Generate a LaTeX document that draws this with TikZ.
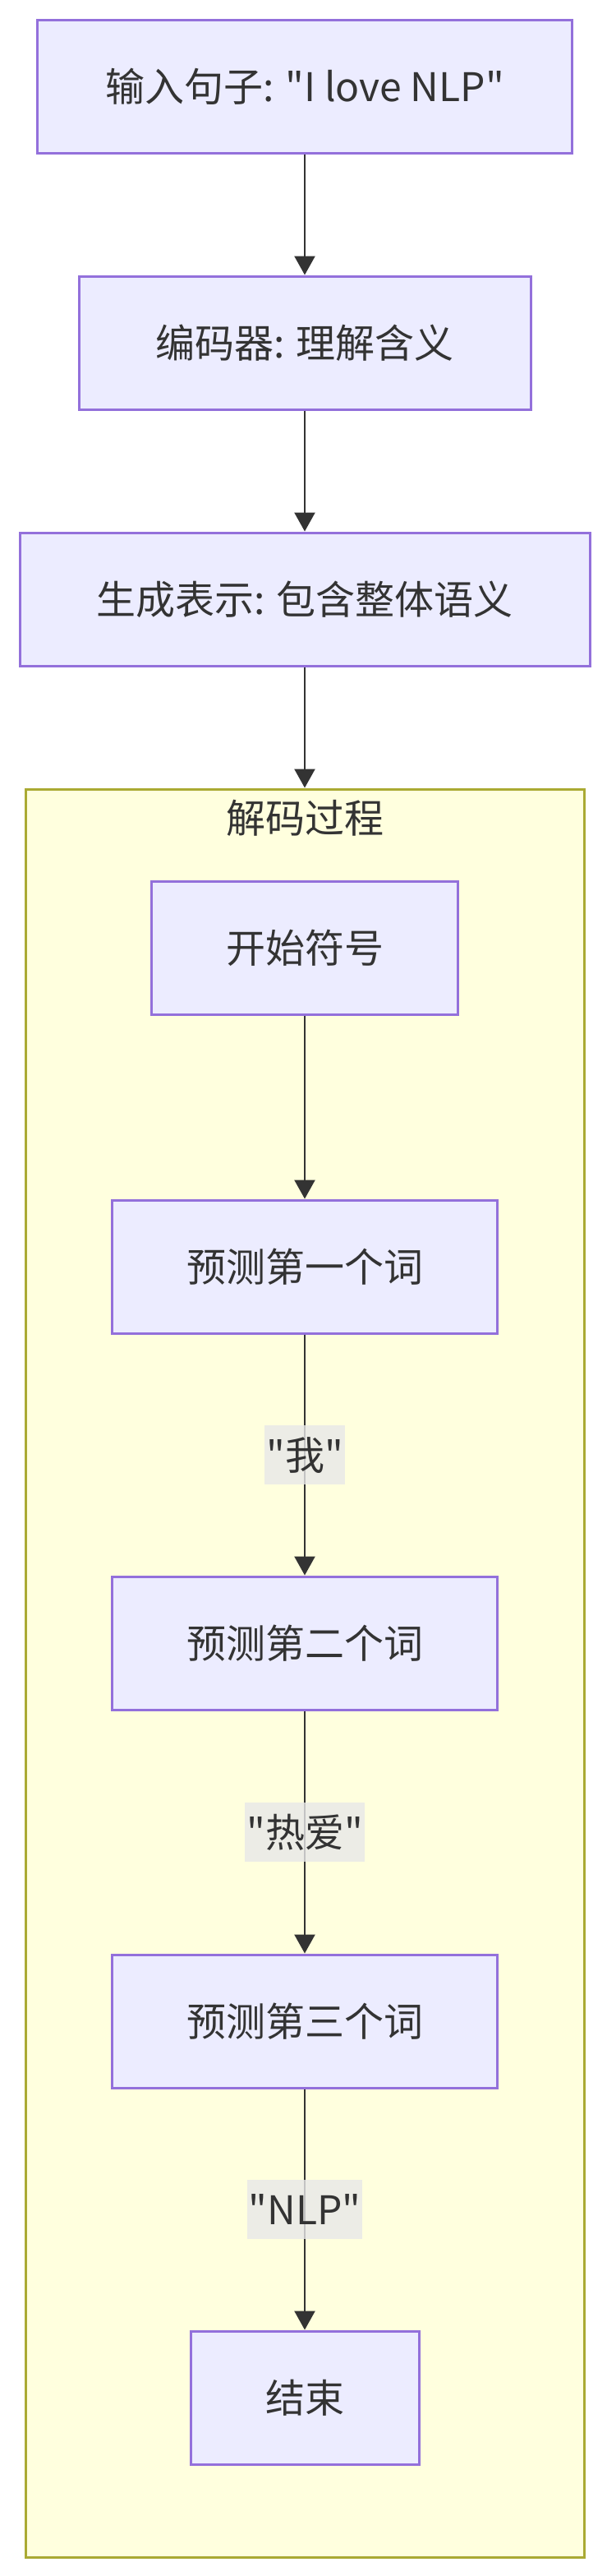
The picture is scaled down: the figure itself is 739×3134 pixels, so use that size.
\documentclass[tikz,border=0pt]{standalone}
\usepackage{fontspec}
\newfontfamily\cjkfont{Noto Sans CJK SC}
\usetikzlibrary{arrows.meta}
\definecolor{nodefill}{HTML}{ECECFF}
\definecolor{nodeline}{HTML}{9370DB}
\definecolor{clusterfill}{HTML}{FFFFDE}
\definecolor{clusterline}{HTML}{AAAA33}
\definecolor{edgecol}{HTML}{333333}
\definecolor{labelbg}{HTML}{E8E8E8}
\begin{document}
\begin{tikzpicture}[x=0.5pt,y=-0.5pt,
  txt/.style={text=edgecol, font=\cjkfont\fontsize{24}{29}\selectfont},
  box/.style={txt, draw=nodeline, fill=nodefill, line width=1.5pt, inner sep=0pt, minimum height=81pt},
  cluster/.style={draw=clusterline, fill=clusterfill, line width=1.5pt, inner sep=0pt},
  edge/.style={draw=edgecol, line width=1.25pt, -{Triangle[length=11.5pt,width=12.5pt]}},
  elabel/.style={txt, fill=labelbg, fill opacity=0.8, text opacity=1, inner xsep=1pt, inner ysep=0pt, minimum height=36pt}
]
\useasboundingbox (0,0) rectangle (739,3134);
\node[box, minimum width=325.5pt] (inp) at (371,105) {输入句子: "I love NLP"};
\node[box, minimum width=275pt] (enc) at (371,417) {编码器: 理解含义};
\node[box, minimum width=347pt] (gen) at (371,729) {生成表示: 包含整体语义};
\node[cluster, minimum width=340pt, minimum height=1075.5pt] (dec) at (371,2035.5) {};
\node[txt] (dectitle) at (371,995) {解码过程};
\node[box, minimum width=186.5pt] (start) at (371,1153) {开始符号};
\node[box, minimum width=234.5pt] (p1) at (371,1541) {预测第一个词};
\node[box, minimum width=234.5pt] (p2) at (371,1999) {预测第二个词};
\node[box, minimum width=234.5pt] (p3) at (371,2459) {预测第三个词};
\node[box, minimum width=139pt] (fin) at (371,2917) {结束};
\draw[edge] (inp.south) -- (enc.north);
\draw[edge] (enc.south) -- (gen.north);
\draw[edge] (gen.south) -- (dec.north);
\draw[edge] (start.south) -- (p1.north);
\draw[edge] (p1.south) -- node[elabel] (l1) {"我"} (p2.north);
\draw[edge] (p2.south) -- node[elabel] (l2) {"热爱"} (p3.north);
\draw[edge] (p3.south) -- node[elabel] (l3) {"NLP"} (fin.north);
\end{tikzpicture}
\end{document}
